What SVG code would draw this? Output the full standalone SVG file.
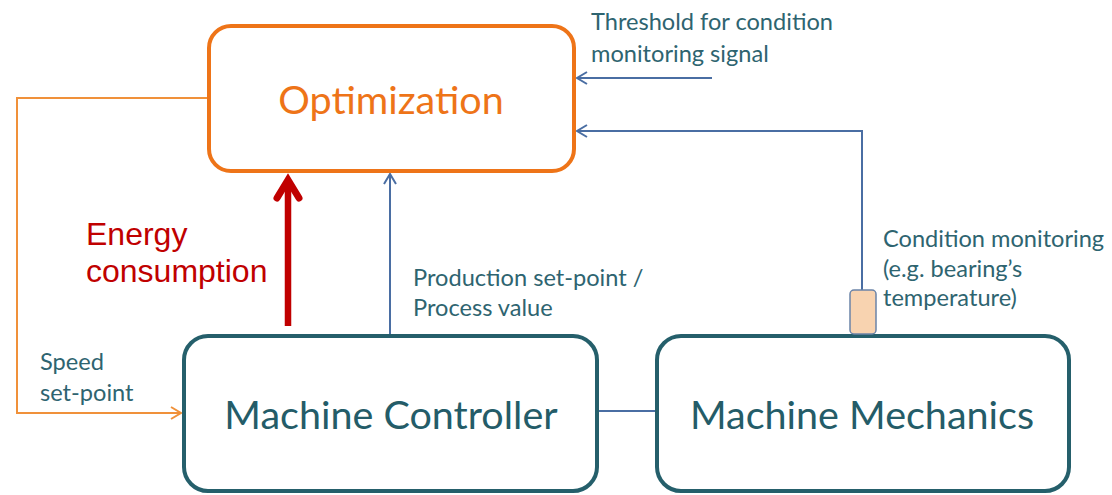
<svg xmlns="http://www.w3.org/2000/svg" width="1112" height="495" viewBox="0 0 1112 495">
<style>
.lbl{font-family:"Lato","Liberation Sans",sans-serif;fill:#2E6470;font-size:23.6px}
.big{font-family:"Lato","Liberation Sans",sans-serif;fill:#245C68;font-size:39.5px}
.blue{fill:none;stroke:#4A6EA3;stroke-width:2}
.box{fill:#fff;stroke:#255F6B;stroke-width:4}
</style>
<defs>
<marker id="ab" markerWidth="14" markerHeight="14" refX="12" refY="7" orient="auto" markerUnits="userSpaceOnUse">
<path d="M2,1 L12,7 L2,13" fill="none" stroke="#4A6EA3" stroke-width="2"/>
</marker>
<marker id="ao" markerWidth="14" markerHeight="14" refX="12" refY="7" orient="auto" markerUnits="userSpaceOnUse">
<path d="M2,1 L12,7 L2,13" fill="none" stroke="#F0913A" stroke-width="2"/>
</marker>
</defs>
<rect width="1112" height="495" fill="#fff"/>
<g id="connectors">
<polyline points="209,98 17,98 17,413 181,413" fill="none" stroke="#F0913A" stroke-width="2" marker-end="url(#ao)"/>
<line x1="712" y1="78" x2="577" y2="78" class="blue" marker-end="url(#ab)"/>
<polyline points="862,290 862,131 577,131" class="blue" marker-end="url(#ab)"/>
<line x1="390" y1="335" x2="390" y2="174" class="blue" marker-end="url(#ab)"/>
<line x1="597" y1="411" x2="656" y2="411" class="blue"/>
<line x1="288" y1="326" x2="288" y2="182" stroke="#C00000" stroke-width="6.5"/>
<polyline points="277,198 288,180 299,198" fill="none" stroke="#C00000" stroke-width="7" stroke-linejoin="miter" stroke-linecap="round"/>
</g>
<g id="optimization">
<rect x="209" y="26" width="365" height="145" rx="22" fill="#fff" stroke="#EE7418" stroke-width="4"/>
<text x="391" y="114" text-anchor="middle" style="font-family:'Lato','Liberation Sans',sans-serif;font-size:39.5px;fill:#EE7418">Optimization</text>
</g>
<g id="machine-controller">
<rect x="184" y="336" width="413" height="155" rx="24" class="box"/>
<text x="391" y="429" text-anchor="middle" class="big">Machine Controller</text>
</g>
<g id="machine-mechanics">
<rect x="657" y="336" width="412" height="155" rx="24" class="box"/>
<text x="862" y="429" text-anchor="middle" class="big">Machine Mechanics</text>
</g>
<g id="sensor">
<rect x="850" y="290" width="26" height="44" rx="4" fill="#F8D3B0" stroke="#6B84A8" stroke-width="1.5"/>
</g>
<g id="labels">
<text class="lbl" x="591" y="30">Threshold for condition</text>
<text class="lbl" x="591" y="62">monitoring signal</text>
<text x="86" y="245" style="font-family:'Liberation Sans',sans-serif;font-size:32px;fill:#C00000">Energy</text>
<text x="86" y="282" style="font-family:'Liberation Sans',sans-serif;font-size:32px;fill:#C00000">consumption</text>
<text class="lbl" x="413" y="286">Production set-point /</text>
<text class="lbl" x="413" y="316">Process value</text>
<text class="lbl" x="40" y="370">Speed</text>
<text class="lbl" x="40" y="401">set-point</text>
<text class="lbl" x="883" y="247">Condition monitoring</text>
<text class="lbl" x="883" y="277">(e.g. bearing’s</text>
<text class="lbl" x="883" y="306">temperature)</text>
</g>
</svg>
